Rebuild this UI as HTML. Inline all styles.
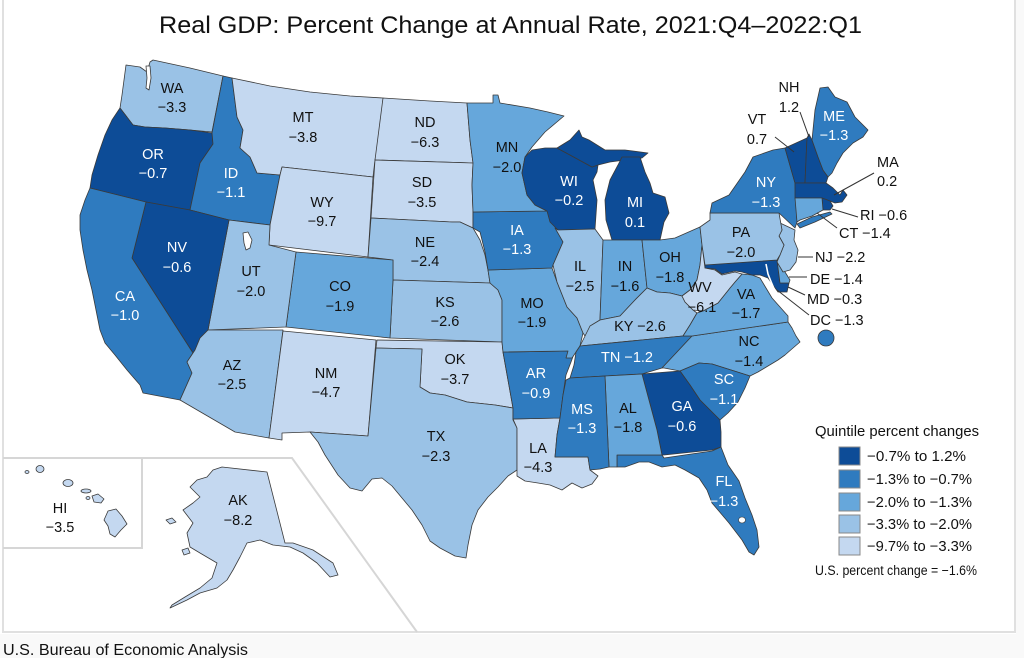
<!DOCTYPE html>
<html><head><meta charset="utf-8"><style>
html,body{margin:0;padding:0;background:#fff;}
svg{display:block;}
text{font-family:"Liberation Sans",Arial,sans-serif;}
.s{stroke:#3a3a3a;stroke-width:0.8;stroke-linejoin:round;}
.q1{fill:#0d4c97}.q2{fill:#2f7bbf}.q3{fill:#66a7db}.q4{fill:#9ac2e6}.q5{fill:#c4d8f0}
.l{font-size:14.5px;text-anchor:middle;fill:#111;}
.w{fill:#fff;}
.ls{font-size:14.5px;fill:#111;}
.ld{stroke:#333;stroke-width:1;fill:none;}
</style></head><body>
<svg width="1024" height="658" viewBox="0 0 1024 658" xmlns="http://www.w3.org/2000/svg">
<rect x="0" y="0" width="1024" height="658" fill="#fff"/>
<rect x="0" y="634" width="1024" height="24" fill="#f9f9f9"/>
<rect x="1016" y="0" width="8" height="658" fill="#f9f9f9"/>
<line x1="3" y1="0" x2="3" y2="633" stroke="#e0e0e0" stroke-width="2"/>
<line x1="1015" y1="0" x2="1015" y2="633" stroke="#e0e0e0" stroke-width="2"/>
<line x1="2" y1="632" x2="1016" y2="632" stroke="#e0e0e0" stroke-width="2"/>

<text x="159" y="33" font-size="24" textLength="703" lengthAdjust="spacingAndGlyphs" fill="#111">Real GDP: Percent Change at Annual Rate, 2021:Q4–2022:Q1</text>

<!-- insets -->
<g stroke="#d6d6d6" stroke-width="2" fill="none">
<polyline points="3,458 142,458 142,548 3,548"/>
<polyline points="142,458 292,458 417,632"/>
</g>

<g class="s">
<polygon class="q4" points="126,65 140,67 147,72 150,62 153,60 190,68 223,76 212,132 190,130 165,128 145,127 133,125 120,108 122,95 124,80"/>
<polygon fill="#fff" points="146,66 150,66 151,78 149,90 146,88 147,78"/>
<polygon class="q1" points="120,108 133,125 145,127 165,128 190,130 212,133 213,144 200,163 190,210 146,202 90,188 92,175 98,155 105,135 112,120"/>
<polygon class="q2" points="223,76 232,78 237,117 243,130 240,148 250,157 257,173 280,175 270,225 229,220 190,210 200,163 213,144 212,133"/>
<polygon class="q5" points="232,78 270,86 310,92 350,96 383,98 380,140 375,160 373,177 282,167 280,175 257,173 250,157 240,148 243,130 237,117"/>
<polygon class="q5" points="282,167 373,177 368,257 269,245 270,225 280,175"/>
<polygon class="q5" points="383,98 430,101 467,103 470,140 473,163 375,160"/>
<polygon class="q5" points="375,160 473,163 472,185 473,212 473,228 460,222 452,222 371,218"/>
<polygon class="q4" points="371,218 452,222 460,222 473,228 480,240 485,255 488,270 490,283 393,280 393,260 368,257"/>
<polygon class="q4" points="393,280 490,283 498,290 502,300 502,342 390,338"/>
<polygon class="q3" points="296,252 393,260 393,280 390,338 286,327"/>
<polygon class="q4" points="229,220 270,225 269,245 296,252 286,327 208,330"/>
<polygon fill="#fff" points="243,233 248,232 252,240 250,248 246,250 244,243"/>
<polygon class="q1" points="146,202 190,210 229,220 208,330 203,335 200,338 195,350 193,353 132,258"/>
<polygon class="q2" points="90,188 146,202 132,258 193,353 187,362 192,373 180,400 143,393 140,385 127,370 115,355 105,343 100,330 96,310 92,290 87,270 83,250 80,230 80,215 85,200"/>
<polygon class="q4" points="208,330 283,330 269,438 235,432 180,400 192,373 187,362 193,353 195,350 200,338 203,335"/>
<polygon class="q5" points="283,331 376,340 368,436 310,432 282,433 282,440 269,438"/>
<polygon class="q5" points="377,340 502,342 503,352 513,408 495,405 467,402 445,395 430,393 420,387 422,349 376,348"/>
<polygon class="q4" points="376,348 422,349 420,387 430,393 445,395 467,402 495,405 513,408 513,420 517,428 517,470 508,476 498,487 488,497 478,510 472,525 468,545 466,558 455,556 440,548 430,541 422,525 412,510 402,498 392,486 382,478 372,479 362,491 350,488 338,475 325,455 318,442 310,432 368,436"/>
<polygon class="q5" points="513,419 560,418 557,435 555,457 588,457 590,470 598,476 592,484 582,488 572,483 562,490 550,485 538,483 525,481 517,476 517,428"/>
<polygon class="q2" points="503,352 568,351 575,351 571,362 566,375 563,395 560,418 513,419 513,408"/>
<polygon class="q3" points="488,270 552,268 557,282 567,307 577,318 583,333 580,346 576,352 572,358 566,358 568,351 503,352 502,342 502,300 498,290 490,283"/>
<polygon class="q2" points="473,212 547,211 555,225 563,242 553,265 552,268 488,270 485,252 480,232 473,228"/>
<polygon class="q3" points="467,103 493,103 493,95 498,95 500,103 530,108 548,112 564,116 545,132 532,147 525,157 522,173 527,195 535,205 547,211 473,212 472,185 473,163 470,140"/>
<polygon class="q1" points="525,157 532,150 545,148 557,148 570,155 592,167 598,165 597,172 593,180 597,200 595,229 558,230 550,222 547,211 535,205 527,195 522,173"/>
<polygon class="q1" points="557,148 570,140 579,130 582,137 589,140 605,150 625,150 648,153 642,158 625,160 610,162 598,165 592,167 570,155"/>
<polygon class="q1" points="612,240 606,220 605,200 610,180 618,165 622,157 640,157 645,172 650,183 653,193 665,197 669,213 664,222 660,240"/>
<polygon class="q4" points="558,230 595,229 603,240 600,320 592,325 585,336 583,333 577,318 567,307 557,282 553,265 563,242 555,228"/>
<polygon class="q3" points="603,240 612,240 642,240 647,288 635,300 620,316 610,318 600,320"/>
<polygon class="q3" points="642,240 660,240 675,238 700,227 702,245 700,265 697,280 690,290 682,296 670,293 657,292 647,288"/>
<polygon class="q4" points="583,340 590,326 600,320 610,318 620,316 635,300 647,288 657,292 670,293 682,296 685,302 693,310 697,313 690,325 683,336 580,346"/>
<polygon class="q2" points="580,346 683,336 692,336 662,368 642,374 605,376 570,378 574,365 576,352"/>
<polygon class="q3" points="692,336 788,322 792,328 796,336 800,342 793,348 785,355 778,360 768,366 758,372 750,376 712,364 699,363 680,371 664,368 662,368"/>
<polygon class="q3" points="683,336 690,325 697,313 703,311 718,303 730,288 735,282 742,274 752,275 760,278 766,288 772,298 780,307 788,316 788,322 692,336"/>
<polygon class="q5" points="702,245 705,268 715,270 722,275 735,272 742,274 735,282 730,288 718,303 703,311 693,310 685,302 682,296 690,290 697,280 700,265"/>
<polygon class="q1" points="705,265 777,260 780,283 789,283 787,292 778,292 773,285 768,278 760,275 752,275 742,272 735,271 722,274 715,269 705,268"/>
<polyline points="766,264 768,274 772,284 775,291" fill="none" stroke="#fff" stroke-width="1.6"/>
<polygon class="q3" points="777,260 782,262 785,272 790,280 789,283 780,283"/>
<polygon class="q4" points="780,223 795,230 794,240 798,250 796,262 790,270 783,272 777,262 780,255 784,245 779,236 782,230"/>
<polygon class="q4" points="700,227 710,220 710,213 779,213 782,230 779,236 784,245 780,255 777,260 705,265 702,245"/>
<polygon class="q2" points="710,213 712,203 729,195 745,172 753,157 773,150 785,148 795,183 797,222 795,228 779,213"/>
<polygon class="q2" points="797,224 812,217 830,212 832,214 815,222 800,228"/>
<polygon class="q1" points="785,148 807,138 806,160 805,183 795,183"/>
<polygon class="q1" points="807,138 809,134 812,140 818,157 823,170 828,177 826,183 805,183 806,160"/>
<polygon class="q2" points="812,140 815,110 820,88 828,87 835,97 847,102 855,117 868,130 863,137 853,143 843,153 837,163 832,173 828,177 823,170 818,157"/>
<polygon class="q1" points="795,183 826,183 833,188 840,195 843,190 847,195 842,202 835,203 830,201 822,198 795,198"/>
<polygon class="q1" points="822,198 830,201 833,206 830,210 823,210"/>
<polygon class="q3" points="795,198 822,198 823,210 812,216 800,220 797,222"/>
<polygon class="q2" points="680,371 699,363 712,364 750,376 745,388 738,402 728,413 720,420 700,400 690,385"/>
<polygon class="q1" points="642,374 680,371 690,385 700,400 720,420 721,432 721,447 712,450 664,455 662,455 657,430"/>
<polygon class="q2" points="617,455 662,455 664,458 712,451 721,447 728,465 739,481 745,498 752,515 757,530 759,547 754,555 749,552 742,540 729,523 718,510 712,503 707,490 699,478 685,470 675,465 662,467 649,462 639,462 625,467 617,467"/>
<ellipse cx="742" cy="520" rx="3.5" ry="3" fill="#fff" stroke="#3a3a3a" stroke-width="0.6"/>
<polygon class="q3" points="605,376 642,374 657,430 662,455 617,455 617,467 609,467"/>
<polygon class="q2" points="570,378 605,376 609,467 600,469 590,470 588,457 555,457 557,435 560,418 563,395 566,380"/>
<circle class="q2" cx="826" cy="338" r="8"/>
<!-- Hawaii -->
<ellipse class="q5" cx="27" cy="472" rx="2" ry="1.5"/>
<ellipse class="q5" cx="40" cy="469" rx="4" ry="3.5"/>
<ellipse class="q5" cx="68" cy="483" rx="5" ry="3.5"/>
<ellipse class="q5" cx="86" cy="491" rx="5" ry="2"/>
<ellipse class="q5" cx="88" cy="498" rx="2" ry="1.5"/>
<polygon class="q5" points="92,496 98,494 104,499 101,503 94,502"/>
<polygon class="q5" points="108,511 116,509 122,516 127,524 121,530 115,537 110,534 108,526 104,520"/>
<!-- Alaska -->
<polygon class="q5" points="213,470 222,467 267,472 285,543 293,543 313,550 333,563 338,575 330,577 317,563 303,553 290,547 273,545 260,540 247,543 240,557 233,570 227,580 217,588 200,593 187,600 170,608 172,605 185,597 200,588 212,578 217,563 200,553 190,547 187,533 193,523 183,510 193,503 200,497 190,487 197,480 207,477"/>
<polygon class="q5" points="166,520 172,518 176,522 170,524"/>
<polygon class="q5" points="182,550 188,548 190,553 184,555"/>
</g>

<!-- leader lines -->
<g class="ld">
<line x1="800" y1="112" x2="809" y2="137"/>
<line x1="775" y1="137" x2="794" y2="152"/>
<line x1="874" y1="173" x2="834" y2="195"/>
<line x1="858" y1="217" x2="832" y2="209"/>
<line x1="837" y1="228" x2="817" y2="213"/>
<line x1="813" y1="257" x2="798" y2="257"/>
<line x1="807" y1="277" x2="789" y2="277"/>
<line x1="805" y1="295" x2="788" y2="287"/>
<line x1="809" y1="315" x2="777" y2="290"/>
</g>

<!-- labels -->
<g class="l">
<text x="172" y="93">WA</text><text x="172" y="112">−3.3</text>
<text x="303" y="122">MT</text><text x="303" y="142">−3.8</text>
<text x="425" y="127">ND</text><text x="425" y="147">−6.3</text>
<text x="422" y="187">SD</text><text x="422" y="207">−3.5</text>
<text x="322" y="207">WY</text><text x="322" y="226">−9.7</text>
<text x="425" y="247">NE</text><text x="425" y="266">−2.4</text>
<text x="251" y="276">UT</text><text x="251" y="296">−2.0</text>
<text x="340" y="291">CO</text><text x="340" y="311">−1.9</text>
<text x="445" y="307">KS</text><text x="445" y="326">−2.6</text>
<text x="232" y="370">AZ</text><text x="232" y="389">−2.5</text>
<text x="326" y="378">NM</text><text x="326" y="397">−4.7</text>
<text x="455" y="364">OK</text><text x="455" y="384">−3.7</text>
<text x="436" y="441">TX</text><text x="436" y="461">−2.3</text>
<text x="60" y="513">HI</text><text x="60" y="532">−3.5</text>
<text x="238" y="505">AK</text><text x="238" y="525">−8.2</text>
<text x="507" y="152">MN</text><text x="507" y="172">−2.0</text>
<text x="532" y="308">MO</text><text x="532" y="327">−1.9</text>
<text x="580" y="271">IL</text><text x="580" y="291">−2.5</text>
<text x="625" y="271">IN</text><text x="625" y="291">−1.6</text>
<text x="670" y="262">OH</text><text x="670" y="282">−1.8</text>
<text x="640" y="331">KY −2.6</text>
<text x="628" y="413">AL</text><text x="628" y="432">−1.8</text>
<text x="538" y="453">LA</text><text x="538" y="472">−4.3</text>
<text x="749" y="346">NC</text><text x="749" y="366">−1.4</text>
<text x="741" y="237">PA</text><text x="741" y="257">−2.0</text>
<text x="789" y="92">NH</text><text x="789" y="112">1.2</text>
<text x="757" y="124">VT</text><text x="757" y="144">0.7</text>
<text x="700" y="292">WV</text><text x="702" y="312">−6.1</text>
<text x="746" y="299">VA</text><text x="746" y="318">−1.7</text>
</g>
<g class="l w">
<text x="153" y="159">OR</text><text x="153" y="178">−0.7</text>
<text x="231" y="178">ID</text><text x="231" y="197">−1.1</text>
<text x="177" y="252">NV</text><text x="177" y="272">−0.6</text>
<text x="125" y="301">CA</text><text x="125" y="320">−1.0</text>
<text x="517" y="235">IA</text><text x="517" y="254">−1.3</text>
<text x="627" y="362">TN −1.2</text>
<text x="536" y="378">AR</text><text x="536" y="398">−0.9</text>
<text x="582" y="414">MS</text><text x="582" y="433">−1.3</text>
<text x="682" y="411">GA</text><text x="682" y="431">−0.6</text>
<text x="724" y="384">SC</text><text x="724" y="404">−1.1</text>
<text x="724" y="486">FL</text><text x="724" y="506">−1.3</text>
<text x="569" y="186">WI</text><text x="569" y="205">−0.2</text>
<text x="635" y="207">MI</text><text x="635" y="227">0.1</text>
<text x="766" y="187">NY</text><text x="766" y="207">−1.3</text>
<text x="834" y="121">ME</text><text x="834" y="140">−1.3</text>
</g>
<g class="ls">
<text x="877" y="167">MA</text><text x="877" y="186">0.2</text>
<text x="860" y="220">RI −0.6</text>
<text x="839" y="238">CT −1.4</text>
<text x="815" y="262">NJ −2.2</text>
<text x="810" y="284">DE −1.4</text>
<text x="807" y="304">MD −0.3</text>
<text x="810" y="325">DC −1.3</text>
</g>

<!-- legend -->
<text x="815" y="436" font-size="14.5" textLength="164" lengthAdjust="spacingAndGlyphs" fill="#111">Quintile percent changes</text>
<g stroke="#888" stroke-width="1">
<rect class="q1" x="839" y="447" width="21" height="18"/>
<rect class="q2" x="839" y="470" width="21" height="18"/>
<rect class="q3" x="839" y="493" width="21" height="18"/>
<rect class="q4" x="839" y="515" width="21" height="18"/>
<rect class="q5" x="839" y="537" width="21" height="18"/>
</g>
<g class="ls">
<text x="867" y="461" textLength="99" lengthAdjust="spacingAndGlyphs">−0.7% to 1.2%</text>
<text x="867" y="484" textLength="105" lengthAdjust="spacingAndGlyphs">−1.3% to −0.7%</text>
<text x="867" y="507" textLength="105" lengthAdjust="spacingAndGlyphs">−2.0% to −1.3%</text>
<text x="867" y="529" textLength="105" lengthAdjust="spacingAndGlyphs">−3.3% to −2.0%</text>
<text x="867" y="551" textLength="105" lengthAdjust="spacingAndGlyphs">−9.7% to −3.3%</text>
<text x="815" y="575" font-size="13.5" textLength="162" lengthAdjust="spacingAndGlyphs">U.S. percent change = −1.6%</text>
</g>

<text x="3" y="655" font-size="16" textLength="245" lengthAdjust="spacingAndGlyphs" fill="#111">U.S. Bureau of Economic Analysis</text>
</svg>
</body></html>
